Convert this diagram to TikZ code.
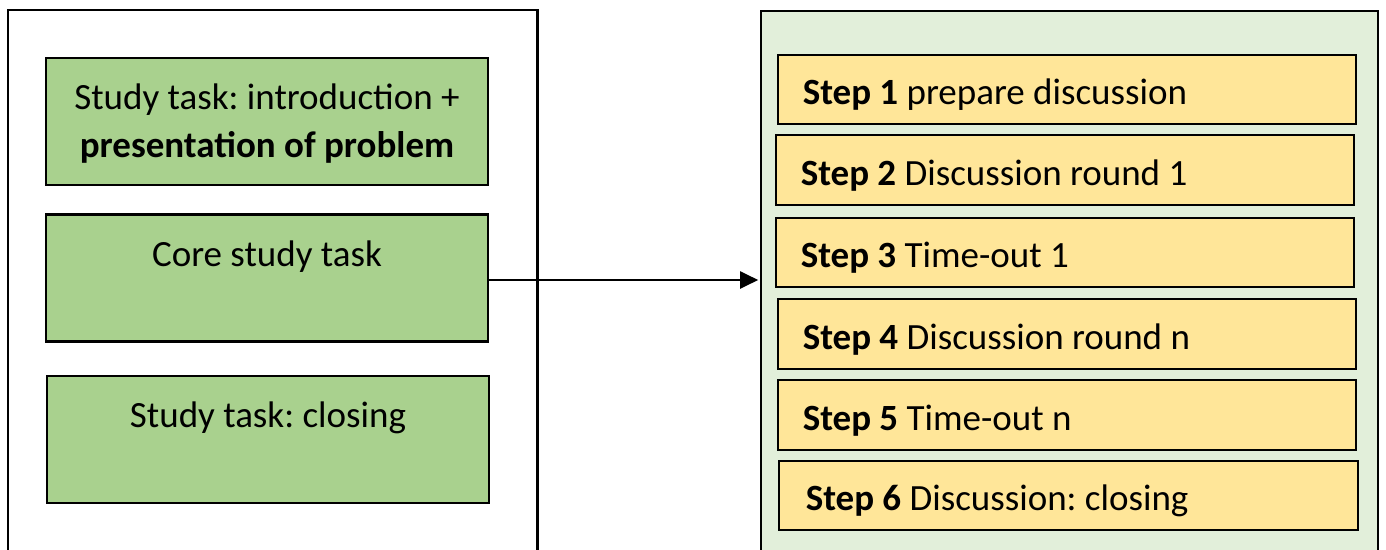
\documentclass[tikz,border=0pt]{standalone}
\usepackage{fontspec}
\setmainfont{Carlito}
\usetikzlibrary{arrows.meta,calc}
\definecolor{taskgreen}{HTML}{A9D18E}
\definecolor{panelgreen}{HTML}{E2EFDA}
\definecolor{stepyellow}{HTML}{FFE699}
\frenchspacing
\begin{document}
\begin{tikzpicture}[x=1pt,y=-1pt,
  panel/.style={draw=black, line width=2.6pt, inner sep=0pt},
  taskbox/.style={draw=black, fill=taskgreen, line width=2.9pt,
    minimum width=442pt, minimum height=127pt, inner sep=0pt},
  stepbox/.style={draw=black, fill=stepyellow, line width=2.9pt,
    minimum width=578pt, minimum height=69pt, inner sep=0pt},
  lbl/.style={font=\fontsize{37}{45}\selectfont, inner sep=0pt, text=black},
]
\useasboundingbox (0,0) rectangle (1386,549);
\clip (0,0) rectangle (1386,549);

% two panels, open at the bottom edge
\node[panel, fill=white, minimum width=529.5pt, minimum height=590pt] (left) at (272.75,305) {};
\node[panel, fill=panelgreen, minimum width=617pt, minimum height=589pt] (right) at (1069.5,305.5) {};

% study task boxes
\node[taskbox] (intro) at (267,121.5) {};
\node[taskbox] (core)  at (267,278) {};
\node[taskbox] (close) at (268,439.5) {};

\node[lbl, anchor=base] (introA) at ($(intro.north)+(0,52.5)$) {Study task: introduction +};
\node[lbl, anchor=base] (introB) at ($(intro.north)+(0,100.5)$) {\textbf{presentation of problem}};
\node[lbl, anchor=base] (coreT)  at ($(core.north)+(0,53)$) {Core study task};
\node[lbl, anchor=base] (closeT) at ($(close.north)+(0,53)$) {Study task: closing};

% discussion steps
\node[stepbox] (s1) at (1067,89.5) {};
\node[stepbox, minimum height=70pt] (s2) at (1065,170) {};
\node[stepbox] (s3) at (1065,252.5) {};
\node[stepbox, minimum height=70pt] (s4) at (1067,334) {};
\node[stepbox, minimum height=70pt] (s5) at (1067,415) {};
\node[stepbox, minimum width=579pt] (s6) at (1068.5,495.5) {};

\node[lbl, anchor=base west] (t1) at ($(s1.north west)+(26,50.5)$) {\textbf{Step 1} prepare discussion};
\node[lbl, anchor=base west] (t2) at ($(s2.north west)+(26,51.5)$) {\textbf{Step 2} Discussion round 1};
\node[lbl, anchor=base west] (t3) at ($(s3.north west)+(26,50.5)$) {\textbf{Step 3} Time-out 1};
\node[lbl, anchor=base west] (t4) at ($(s4.north west)+(26,51.5)$) {\textbf{Step 4} Discussion round n};
\node[lbl, anchor=base west] (t5) at ($(s5.north west)+(26,51.5)$) {\textbf{Step 5} Time-out n};
\node[lbl, anchor=base west] (t6) at ($(s6.north west)+(28,50.5)$) {\textbf{Step 6} Discussion: closing};

% the core task expands into the steps
\draw[line width=2pt, -{Triangle[length=18pt,width=17pt]}, shorten >=1.5pt]
  ([yshift=-2pt]core.east) -- ([yshift=-2pt]core.east -| right.west);
\end{tikzpicture}
\end{document}
